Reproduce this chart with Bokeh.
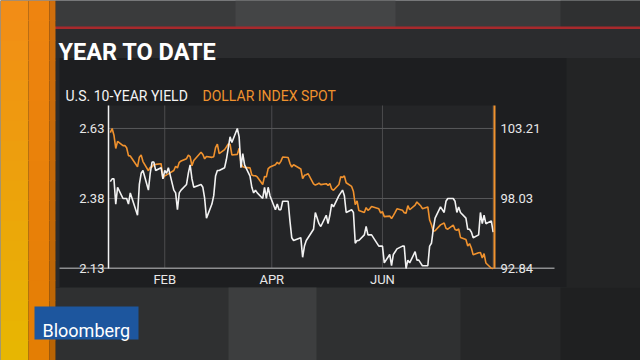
import pandas as pd
from bokeh.plotting import figure
from bokeh.models import (Range1d, LinearAxis, DatetimeAxis, FixedTicker,
                          PrintfTickFormatter, CustomJSTickFormatter, Label)
from bokeh.embed import file_html
from bokeh.resources import INLINE

# ---------------- data (2017) ----------------
dates = [
    "01-02", "01-03", "01-04", "01-05", "01-06", "01-09", "01-10", "01-11", "01-12", "01-13",
    "01-17", "01-18", "01-19", "01-20", "01-23", "01-24", "01-25", "01-26", "01-27", "01-30", "01-31",
    "02-01", "02-02", "02-03", "02-06", "02-07", "02-08", "02-09", "02-10", "02-13", "02-14",
    "02-15", "02-16", "02-17", "02-21", "02-22", "02-23", "02-24", "02-27", "02-28",
    "03-01", "03-02", "03-03", "03-06", "03-07", "03-08", "03-09", "03-10", "03-13", "03-14",
    "03-15", "03-16", "03-17", "03-20", "03-21", "03-22", "03-23", "03-24", "03-27", "03-28",
    "03-29", "03-30", "03-31",
    "04-03", "04-04", "04-05", "04-06", "04-07", "04-10", "04-11", "04-12", "04-13", "04-17",
    "04-18", "04-19", "04-20", "04-21", "04-24", "04-25", "04-26", "04-27", "04-28",
    "05-01", "05-02", "05-03", "05-04", "05-05", "05-08", "05-09", "05-10", "05-11", "05-12",
    "05-15", "05-16", "05-17", "05-18", "05-19", "05-22", "05-23", "05-24", "05-25", "05-26",
    "05-30", "05-31",
    "06-01", "06-02", "06-05", "06-06", "06-07", "06-08", "06-09", "06-12", "06-13", "06-14",
    "06-15", "06-16", "06-19", "06-20", "06-21", "06-22", "06-23", "06-26", "06-27", "06-28",
    "06-29", "06-30",
    "07-03", "07-05", "07-06", "07-07", "07-10", "07-11", "07-12", "07-13", "07-14", "07-17",
    "07-18", "07-19", "07-20", "07-21", "07-24", "07-25", "07-26", "07-27", "07-28", "07-31",
    "08-01",
]

yield_10y = [
    2.44, 2.45, 2.45, 2.36, 2.42, 2.38, 2.38, 2.38, 2.36, 2.40,
    2.32, 2.43, 2.47, 2.48, 2.41, 2.47, 2.51, 2.51, 2.48, 2.49, 2.45,
    2.48, 2.47, 2.49, 2.41, 2.40, 2.34, 2.40, 2.41, 2.43, 2.47,
    2.50, 2.45, 2.42, 2.43, 2.42, 2.38, 2.31, 2.36, 2.39,
    2.46, 2.48, 2.48, 2.49, 2.52, 2.56, 2.60, 2.58, 2.63, 2.60,
    2.49, 2.54, 2.50, 2.46, 2.42, 2.40, 2.41, 2.40, 2.38, 2.42,
    2.38, 2.42, 2.39,
    2.34, 2.36, 2.34, 2.34, 2.37, 2.37, 2.30, 2.24, 2.23, 2.24,
    2.17, 2.21, 2.23, 2.24, 2.27, 2.33, 2.31, 2.29, 2.28,
    2.32, 2.29, 2.32, 2.36, 2.35, 2.39, 2.40, 2.41, 2.39, 2.33,
    2.34, 2.33, 2.22, 2.23, 2.23, 2.25, 2.28, 2.25, 2.25, 2.25,
    2.21, 2.21,
    2.21, 2.15, 2.18, 2.14, 2.18, 2.19, 2.20, 2.21, 2.21, 2.13,
    2.16, 2.15, 2.19, 2.16, 2.16, 2.15, 2.14, 2.14, 2.21, 2.22,
    2.27, 2.31,
    2.35, 2.33, 2.37, 2.38, 2.38, 2.37, 2.33, 2.35, 2.33, 2.31,
    2.27, 2.27, 2.26, 2.24, 2.25, 2.33, 2.29, 2.32, 2.29, 2.30,
    2.26,
]

dollar_index = [
    102.90, 103.21, 102.71, 101.73, 102.25, 101.94, 101.95, 101.78, 101.20, 101.17,
    100.37, 101.08, 101.24, 100.76, 100.08, 100.33, 100.35, 100.54, 100.55, 100.60, 99.51,
    99.71, 99.77, 99.85, 100.10, 100.41, 100.29, 100.70, 100.80, 100.97, 101.23,
    101.12, 100.44, 100.84, 101.45, 101.28, 100.96, 101.13, 101.07, 101.12,
    101.79, 102.05, 101.35, 101.64, 101.85, 102.06, 102.04, 101.25, 101.29, 101.74,
    100.67, 100.37, 100.33, 100.29, 99.76, 99.71, 99.71, 99.62, 99.06, 99.66,
    99.62, 100.23, 100.35,
    100.53, 100.70, 100.58, 100.77, 101.10, 101.06, 100.63, 100.35, 100.52, 100.21,
    99.49, 99.74, 99.79, 99.86, 99.11, 99.02, 99.07, 99.16, 99.05,
    99.12, 98.99, 99.13, 98.73, 98.63, 99.06, 99.63, 99.58, 99.69, 99.19,
    98.92, 98.54, 97.56, 97.85, 97.13, 96.99, 97.35, 97.14, 97.26, 97.43,
    97.26, 96.95,
    97.05, 96.68, 96.72, 96.54, 96.76, 96.99, 97.26, 97.16, 96.97, 96.93,
    97.50, 97.19, 97.53, 97.77, 97.62, 97.49, 97.27, 97.40, 96.43, 96.08,
    95.60, 95.63,
    96.07, 96.21, 95.82, 95.75, 96.06, 95.73, 95.67, 95.78, 95.14, 94.99,
    94.51, 94.68, 94.36, 93.85, 94.01, 94.02, 93.62, 93.94, 93.25, 92.86,
    92.84,
]

yield_ticks = [2.13, 2.38, 2.63]
dollar_ticks = [92.84, 98.03, 103.21]
month_names = ["JAN", "FEB", "MAR", "APR", "MAY", "JUN",
               "JUL", "AUG", "SEP", "OCT", "NOV", "DEC"]
label_months = ["2017-02-01", "2017-04-01", "2017-06-01"]
grid_months = ["2017-02-01", "2017-04-01", "2017-06-01", "2017-08-01"]

title_text = "YEAR TO DATE"
series_names = ["U.S. 10-YEAR YIELD", "DOLLAR INDEX SPOT"]
logo_text = "Bloomberg"

assert len(dates) == len(yield_10y) == len(dollar_index)

# ---------------- layout / styling ----------------
W, H = 640, 360
X0, X1, Y0, Y1 = 108, 494, 105, 268          # plot area in canvas pixels
WHITE = "#f2f2f2"
ORANGE = "#f0922e"
FONT = "Roboto"


def ms(s):
    return pd.Timestamp(s).value // 10**6


x = pd.to_datetime(["2017-" + d for d in dates])

t_lo, t_hi = ms("2017-01-01"), ms("2017-08-01 18:00")
y_lo, y_hi = 2.13, 2.712
d_lo, d_hi = 92.84, 104.91


def stretch(lo, hi, p_lo, p_hi, n_lo, n_hi):
    """Range whose [lo, hi] part lands on pixels [p_lo, p_hi] of a canvas side."""
    k = (hi - lo) / (p_hi - p_lo)
    return Range1d(lo - n_lo * k, hi + n_hi * k)


# canvas-pixel frame (y downwards) for the decorations
p = figure(width=W, height=H, title=None,
           x_range=Range1d(0, W), y_range=Range1d(H, 0),
           x_axis_location=None, y_axis_location=None,
           output_backend="svg", toolbar_location=None,
           min_border=0, min_border_left=0, min_border_right=0,
           min_border_top=0, min_border_bottom=0)
p.outline_line_color = None
p.background_fill_color = "#1d1e20"
p.border_fill_color = "#1d1e20"
p.grid.visible = False

p.extra_x_ranges = {"date": stretch(t_lo, t_hi, X0, X1, X0, W - X1)}
p.extra_y_ranges = {"yld": stretch(y_lo, y_hi, H - Y1, H - Y0, H - Y1, Y0),
                    "dxy": stretch(d_lo, d_hi, H - Y1, H - Y0, H - Y1, Y0)}


def box(x0, x1, y0, y1, color):
    p.quad(left=x0, right=x1, top=y0, bottom=y1,
           fill_color=color, line_color=None)


def lerp(c0, c1, t):
    a = [int(c0[i:i + 2], 16) for i in (1, 3, 5)]
    b = [int(c1[i:i + 2], 16) for i in (1, 3, 5)]
    return "#%02x%02x%02x" % tuple(round(a[k] + (b[k] - a[k]) * t) for k in range(3))


# top background
box(55, W, 0, 27, "#3a3b3c")
box(235, 395, 0, 27, "#444546")
box(560, W, 0, 27, "#2f3031")
# red rule
box(52, W, 26, 28.5, "#a8292c")
# title bar
box(52, W, 28.5, 57.5, "#2b2c2e")
# right of panel
box(566, W, 57.5, 287, "#232425")
# bottom area
box(55, W, 287, H, "#2f3031")
box(228, 316, 287, H, "#3d3e3f")
box(460, W, 287, H, "#262728")
box(560, W, 287, H, "#1f2021")
# gap left of panel
box(55, 59, 57.5, 287, "#2a2a2b")

# left orange / yellow strip
n = 18
for i in range(n):
    y0 = H * i / n
    y1 = H * (i + 1) / n + 0.5
    t = i / (n - 1)
    box(0, 28, y0, y1, lerp("#f28d16", "#e7b602", t))
    box(28, 49, y0, y1, lerp("#ee8410", "#e47e04", t))
    box(49, 55, y0, y1, lerp("#cf6e0c", "#b96404", t))

# logo box
box(34, 138, 306, 339, "#1d569e")

# plot-area background
p.quad(left=t_lo, right=ms(grid_months[-1]), bottom=y_lo, top=y_hi,
       x_range_name="date", y_range_name="yld",
       fill_color="#242527", line_color=None)

# grid lines
gx = [ms(m) for m in grid_months]
p.segment(x0=gx, x1=gx, y0=[y_lo] * len(gx), y1=[y_hi] * len(gx),
          x_range_name="date", y_range_name="yld",
          line_color="#4c4c4e", line_width=1)
gy = yield_ticks[1:]
p.segment(x0=[t_lo] * len(gy), x1=[gx[-1]] * len(gy), y0=gy, y1=gy,
          x_range_name="date", y_range_name="yld",
          line_color="#58595b", line_width=1)

# baseline of the chart
box(59, 554, 267, 268.5, "#8d8e90")

# series
p.line(x, dollar_index, x_range_name="date", y_range_name="dxy",
       line_color=ORANGE, line_width=1.6)
p.line(x, yield_10y, x_range_name="date", y_range_name="yld",
       line_color=WHITE, line_width=1.6)


def style_axis(ax, standoff, line_color=None, line_width=1):
    ax.axis_line_color = line_color
    ax.axis_line_width = line_width
    ax.major_tick_line_color = None
    ax.minor_tick_line_color = None
    ax.major_tick_out = 0
    ax.major_tick_in = 0
    ax.minor_tick_out = 0
    ax.minor_tick_in = 0
    ax.major_label_text_color = "#e8e8e8"
    ax.major_label_text_font = FONT
    ax.major_label_text_font_size = "13px"
    ax.major_label_standoff = standoff


def value_axis(rng, loc, bounds, ticks, side, line_color, line_width, baseline):
    ax = LinearAxis(y_range_name=rng, fixed_location=loc, bounds=bounds,
                    ticker=FixedTicker(ticks=ticks),
                    formatter=PrintfTickFormatter(format="%.2f"))
    style_axis(ax, 4 if side == "left" else 6, line_color, line_width)
    ax.major_label_text_baseline = baseline
    p.add_layout(ax, side)


# left (yield) axis: upper ticks centred, bottom tick sits on the baseline
value_axis("yld", X0, (y_lo, y_hi), yield_ticks[1:], "left", WHITE, 1.5, "middle")
value_axis("yld", X0, (y_lo, y_hi), yield_ticks[:1], "left", None, 1, "bottom")
# right (dollar index) axis
value_axis("dxy", X1, (d_lo, d_hi), dollar_ticks[1:], "right", ORANGE, 2, "middle")
value_axis("dxy", X1, (d_lo, d_hi), dollar_ticks[:1], "right", None, 1, "bottom")

bx = DatetimeAxis(x_range_name="date", fixed_location=Y1, bounds=(t_lo, t_hi),
                  ticker=FixedTicker(ticks=[ms(m) for m in label_months]),
                  formatter=CustomJSTickFormatter(
                      args=dict(names=month_names),
                      code="return names[new Date(tick).getUTCMonth()];"))
style_axis(bx, 3)
p.add_layout(bx, "below")

# texts
p.add_layout(Label(x=58, y=51.5, text=title_text, text_font=FONT,
                   text_font_style="bold", text_font_size="23.5px",
                   text_color="#ffffff", text_baseline="alphabetic"))
p.add_layout(Label(x=65, y=95, text=series_names[0], text_font=FONT,
                   text_font_size="14px", text_color="#f4f4f4",
                   text_baseline="alphabetic"))
p.add_layout(Label(x=202, y=95, text=series_names[1], text_font=FONT,
                   text_font_size="14px", text_color=ORANGE,
                   text_baseline="alphabetic"))
p.add_layout(Label(x=42, y=329.5, text=logo_text, text_font=FONT,
                   text_font_size="18px", text_color="#ffffff",
                   text_baseline="alphabetic"))

open("out.html", "w").write(file_html(p, INLINE))
